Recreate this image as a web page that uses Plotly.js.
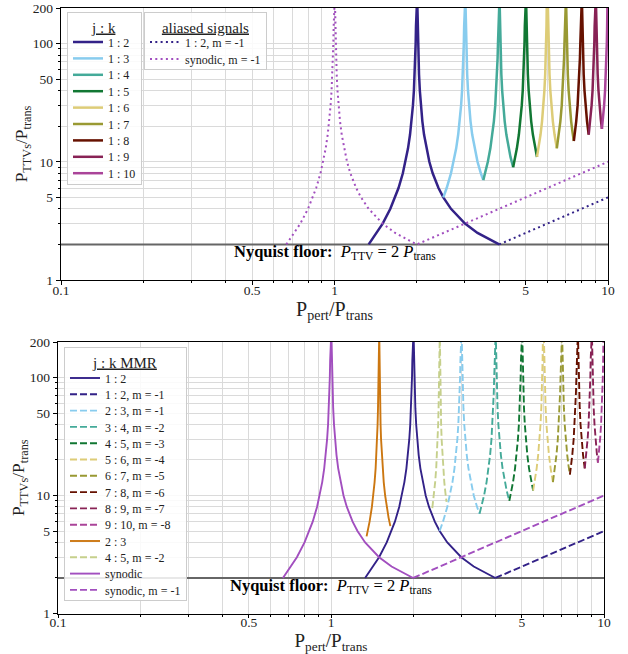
<!DOCTYPE html>
<html>
<head>
<meta charset="utf-8">
<script src="https://cdn.plot.ly/plotly-3.0.1.min.js"></script>
<style>html,body{margin:0;padding:0;background:#fff;}#chart{width:628px;height:654px;}</style>
</head>
<body>
<div id="chart"></div>
<script>
// ---------- data ----------
// Nyquist floor
const nyq_x = [0.1, 10];
const nyq_y = [2, 2];

// synodic (both branches)
const x_syn = [0.6667,0.7143,0.75,0.8,0.8333,0.8571,0.8889,0.9091,0.9286,0.9444,0.9565,0.9677,0.9756,0.9821,0.9868,0.9901,0.9929,0.9950,0.9962,
               1.0039,1.0050,1.0072,1.0101,1.0135,1.0185,1.0256,1.0345,1.0476,1.0625,1.0833,1.1111,1.1429,1.2,1.25,1.3333,1.5,1.6667,2];
const y_syn = [2,2.5,3,4,5,6,8,10,13,17,22,30,40,55,75,100,140,200,260,
               260,200,140,100,75,55,40,30,22,17,13,10,8,6,5,4,3,2.5,2];
// synodic aliased, m = -1
const x_syn_alias = [2, 10];
const y_syn_alias = [2, 10];

// 1 : 2
const x_12 = [1.3333,1.4286,1.5,1.6,1.6667,1.7143,1.7778,1.8182,1.8571,1.8889,1.9130,1.9355,1.9512,1.9643,1.9737,1.9802,1.9858,1.9900,1.9923,
              2.0077,2.0101,2.0144,2.0202,2.0270,2.0370,2.0513,2.0690,2.0952,2.125,2.1667,2.2222,2.2857,2.4,2.5,2.6667,3.0,3.3333,4.0];
const y_12 = [2,2.5,3,4,5,6,8,10,13,17,22,30,40,55,75,100,140,200,260,
              260,200,140,100,75,55,40,30,22,17,13,10,8,6,5,4,3,2.5,2];
// 1 : 2 aliased, m = -1
const x_12_alias = [4, 10];
const y_12_alias = [2, 5];

// 1 : 3  (also 2 : 3, m = -1)
const x_13 = [2.5,2.5714,2.6667,2.7273,2.7857,2.8333,2.8696,2.9032,2.9268,2.9464,2.9605,2.9703,2.9787,2.9851,2.9885,
              3.0116,3.0151,3.0216,3.0303,3.0405,3.0556,3.0769,3.1034,3.1429,3.1875,3.25,3.3333,3.4286,3.5];
const y_13 = [5,6,8,10,13,17,22,30,40,55,75,100,140,200,260,
              260,200,140,100,75,55,40,30,22,17,13,10,8,7];
// 1 : 4  (also 3 : 4, m = -2)
const x_14 = [3.5,3.5556,3.6364,3.7143,3.7778,3.8261,3.8710,3.9024,3.9286,3.9474,3.9604,3.9716,3.9801,3.9847,
              4.0154,4.0201,4.0288,4.0404,4.0541,4.0741,4.1026,4.1379,4.1905,4.25,4.3333,4.4,4.5];
const y_14 = [7,8,10,13,17,22,30,40,55,75,100,140,200,260,
              260,200,140,100,75,55,40,30,22,17,13,11,9];
// 1 : 5  (also 4 : 5, m = -3)
const x_15 = [4.5,4.5833,4.6429,4.7222,4.7826,4.8387,4.8780,4.9107,4.9342,4.9505,4.9645,4.9751,4.9808,
              5.0193,5.0251,5.0360,5.0505,5.0676,5.0926,5.1282,5.1724,5.2381,5.3125,5.4167,5.5];
const y_15 = [9,11,13,17,22,30,40,55,75,100,140,200,260,
              260,200,140,100,75,55,40,30,22,17,13,11];
// 1 : 6  (also 5 : 6, m = -4)
const x_16 = [5.5,5.5714,5.6667,5.7391,5.8065,5.8537,5.8929,5.9211,5.9406,5.9574,5.9701,5.9770,
              6.0232,6.0302,6.0432,6.0606,6.0811,6.1111,6.1538,6.2069,6.2857,6.375,6.5];
const y_16 = [11,13,17,22,30,40,55,75,100,140,200,260,
              260,200,140,100,75,55,40,30,22,17,13];
// 1 : 7  (also 6 : 7, m = -5)
const x_17 = [6.5,6.5625,6.6111,6.6957,6.7742,6.8293,6.875,6.9079,6.9307,6.9504,6.9652,6.9732,
              7.0270,7.0352,7.0504,7.0707,7.0946,7.1296,7.1795,7.2414,7.3333,7.4118,7.5];
const y_17 = [13,15,17,22,30,40,55,75,100,140,200,260,
              260,200,140,100,75,55,40,30,22,18,15];
// 1 : 8  (also 7 : 8, m = -6)
const x_18 = [7.5,7.5556,7.6522,7.7419,7.8049,7.8571,7.8947,7.9208,7.9433,7.9602,7.9693,
              8.0309,8.0402,8.0576,8.0808,8.1081,8.1481,8.2051,8.2759,8.3810,8.5];
const y_18 = [15,17,22,30,40,55,75,100,140,200,260,
              260,200,140,100,75,55,40,30,22,17];
// 1 : 9  (also 8 : 9, m = -7)
const x_19 = [8.5,8.5714,8.6538,8.7097,8.7805,8.8393,8.8816,8.9109,8.9362,8.9552,8.9655,
              9.0347,9.0452,9.0647,9.0909,9.1216,9.1667,9.2308,9.3103,9.4091,9.5];
const y_19 = [17,20,25,30,40,55,75,100,140,200,260,
              260,200,140,100,75,55,40,30,23,19];
// 1 : 10  (also 9 : 10, m = -8)
const x_110 = [9.5,9.5652,9.6296,9.6774,9.7561,9.8214,9.8684,9.9010,9.9291,9.9502,9.9617];
const y_110 = [19,22,26,30,40,55,75,100,140,200,260];

// 2 : 3
const x_23 = [1.35,1.3636,1.3846,1.4118,1.4286,1.4444,1.4571,1.4667,1.4754,1.4815,1.4865,1.4901,1.4925,1.4947,1.4963,1.4971,
              1.5029,1.5038,1.5054,1.5075,1.5101,1.5138,1.5190,1.5254,1.5349,1.5455,1.56,1.5789,1.6,1.625,1.65];
const y_23 = [4.5,5,6,8,10,13,17,22,30,40,55,75,100,140,200,260,
              260,200,140,100,75,55,40,30,22,17,13,10,8,6.5,5.5];
// 4 : 5, m = -2
const x_45 = [2.35,2.381,2.4074,2.4286,2.4444,2.4590,2.4691,2.4775,2.4834,2.4876,2.4911,2.4938,2.4952,
              2.5048,2.5063,2.5090,2.5126,2.5168,2.5229,2.5316,2.5424,2.5581,2.5758,2.6,2.625,2.65];
const y_45 = [7.83,10,13,17,22,30,40,55,75,100,140,200,260,
              260,200,140,100,75,55,40,30,22,17,13,10.5,8.83];

// tick labels
const x_tickvals = [0.1, 0.5, 1, 5, 10];
const x_ticktext = ['0.1', '0.5', '1', '5', '10'];
const x_minor = [0.2,0.3,0.4,0.6,0.7,0.8,0.9,2,3,4,6,7,8,9];
const y_tickvals = [1, 5, 10, 50, 100, 200];
const y_ticktext = ['1', '5', '10', '50', '100', '200'];
const y_minor = [2,3,4,6,7,8,9,20,30,40,60,70,80,90];

// ---------- styling ----------
const SERIF = '"Liberation Serif", "Times New Roman", serif';
const C = {
  c12:'#332288', c13:'#88CCEE', c14:'#44AA99', c15:'#117733', c16:'#DDCC77',
  c17:'#999933', c18:'#661100', c19:'#882255', c110:'#AA4499',
  syn:'#A24FBF', c23:'#CC7711', c45:'#C6D08C', nyq:'#666666'
};
const DOT = '2px,3.3px';
const DASH = '7px,3px';

function tr(x, y, name, color, opts) {
  opts = opts || {};
  return {
    type: 'scatter', mode: 'lines', x: x, y: y, name: name,
    xaxis: opts.xa || 'x', yaxis: opts.ya || 'y',
    line: {color: color, width: opts.w || 2.3, dash: opts.dash || 'solid'},
    showlegend: opts.show !== false, legend: opts.legend || 'legend',
    hoverinfo: 'skip'
  };
}

const T = {w: 2.5};
const B = {xa: 'x2', ya: 'y2', w: 1.9, legend: 'legend3'};
function b(extra) { return Object.assign({}, B, extra); }

const data = [
  // top panel
  tr(nyq_x, nyq_y, 'nyq', C.nyq, {w: 2, show: false}),
  tr(x_12, y_12, '1 : 2', C.c12, T),
  tr(x_13, y_13, '1 : 3', C.c13, T),
  tr(x_14, y_14, '1 : 4', C.c14, T),
  tr(x_15, y_15, '1 : 5', C.c15, T),
  tr(x_16, y_16, '1 : 6', C.c16, T),
  tr(x_17, y_17, '1 : 7', C.c17, T),
  tr(x_18, y_18, '1 : 8', C.c18, T),
  tr(x_19, y_19, '1 : 9', C.c19, T),
  tr(x_110, y_110, '1 : 10', C.c110, T),
  tr(x_12_alias, y_12_alias, '1 : 2, m = -1', C.c12, {w: 2, dash: DOT, legend: 'legend2'}),
  tr(x_syn.concat(x_syn_alias), y_syn.concat(y_syn_alias), 'synodic, m = -1', C.syn, {w: 2, dash: DOT, legend: 'legend2'}),
  // bottom panel
  tr(nyq_x, nyq_y, 'nyq', C.nyq, b({w: 2, show: false})),
  tr(x_12, y_12, '1 : 2', C.c12, b()),
  tr(x_12_alias, y_12_alias, '1 : 2, m = -1', C.c12, b({dash: DASH})),
  tr(x_13, y_13, '2 : 3, m = -1', C.c13, b({dash: DASH})),
  tr(x_14, y_14, '3 : 4, m = -2', C.c14, b({dash: DASH})),
  tr(x_15, y_15, '4 : 5, m = -3', C.c15, b({dash: DASH})),
  tr(x_16, y_16, '5 : 6, m = -4', C.c16, b({dash: DASH})),
  tr(x_17, y_17, '6 : 7, m = -5', C.c17, b({dash: DASH})),
  tr(x_18, y_18, '7 : 8, m = -6', C.c18, b({dash: DASH})),
  tr(x_19, y_19, '8 : 9, m = -7', C.c19, b({dash: DASH})),
  tr(x_110, y_110, '9 : 10, m = -8', C.c110, b({dash: DASH})),
  tr(x_23, y_23, '2 : 3', C.c23, b()),
  tr(x_45, y_45, '4 : 5, m = -2', C.c45, b({dash: DASH})),
  tr(x_syn, y_syn, 'synodic', C.syn, b()),
  tr(x_syn_alias, y_syn_alias, 'synodic, m = -1', C.syn, b({dash: DASH}))
];

const W = 628, H = 654;
const GRID = '#dadada';
function xax(domain, anchor, titleStandoff, labelStandoff, titleSize) {
  return {
    type: 'log', range: [-1, 1], domain: domain, anchor: anchor,
    tickmode: 'array', tickvals: x_tickvals, ticktext: x_ticktext,
    ticks: 'outside', ticklen: 3.5, tickwidth: 1, tickcolor: '#000',
    ticklabelstandoff: labelStandoff,
    showline: true, linecolor: '#000', linewidth: 1.3, mirror: true,
    showgrid: true, gridcolor: GRID, gridwidth: 1, zeroline: false,
    minor: {tickmode: 'array', tickvals: x_minor, ticks: 'outside', ticklen: 2, tickcolor: '#000',
            showgrid: true, gridcolor: GRID, gridwidth: 1},
    tickfont: {family: SERIF, size: 13.5, color: '#222'},
    title: {text: 'P<sub>pert</sub>/P<sub>trans</sub>', font: {family: SERIF, size: titleSize, color: '#222'}, standoff: titleStandoff}
  };
}
function yax(domain, anchor) {
  return {
    type: 'log', range: [0, Math.log10(200)], domain: domain, anchor: anchor,
    tickmode: 'array', tickvals: y_tickvals, ticktext: y_ticktext,
    ticks: 'outside', ticklen: 4, tickwidth: 1, tickcolor: '#000',
    showline: true, linecolor: '#000', linewidth: 1.3, mirror: true,
    showgrid: true, gridcolor: GRID, gridwidth: 1, zeroline: false,
    minor: {tickmode: 'array', tickvals: y_minor, ticks: 'outside', ticklen: 2, tickcolor: '#000',
            showgrid: true, gridcolor: GRID, gridwidth: 1},
    tickfont: {family: SERIF, size: 13.5, color: '#222'},
    title: {text: 'P<sub>TTVs</sub>/P<sub>trans</sub>', font: {family: SERIF, size: 17.5, color: '#222'}, standoff: 0}
  };
}
function leg(xpx, ypx, title) {
  return {
    x: xpx / W, y: 1 - ypx / H, xanchor: 'left', yanchor: 'top',
    bgcolor: 'rgba(255,255,255,0.85)', bordercolor: '#cccccc', borderwidth: 1,
    font: {family: SERIF, size: 12, color: '#222'},
    title: {text: title, side: 'top center', font: {family: SERIF, size: 15, color: '#222'}},
    itemwidth: 30, tracegroupgap: 0
  };
}
const nyqText = '<b>Nyquist floor:</b>  <i>P</i><sub>TTV</sub> = 2 <i>P</i><sub>trans</sub>';
function nyqAnn(xref, yref) {
  return {xref: xref, yref: yref, x: 0, y: Math.log10(2), xanchor: 'center', yanchor: 'top',
          showarrow: false, text: nyqText, yshift: 4,
          font: {family: SERIF, size: 16.5, color: '#000'}};
}

const layout = {
  width: W, height: H,
  margin: {l: 0, r: 0, t: 0, b: 0},
  font: {family: SERIF, color: '#222'},
  paper_bgcolor: '#fff', plot_bgcolor: '#fff',
  xaxis: xax([61 / W, 608 / W], 'y', 1, -6, 20),
  yaxis: yax([1 - 280 / H, 1 - 8 / H], 'x'),
  xaxis2: xax([58 / W, 604 / W], 'y2', 6, -8, 19),
  yaxis2: yax([1 - 613.5 / H, 1 - 342 / H], 'x2'),
  legend: leg(67, 12, '<u>j : k</u>'),
  legend2: leg(144, 12, '<u>aliased signals</u>'),
  legend3: leg(64, 347, '<u>j : k MMR</u>'),
  annotations: [nyqAnn('x', 'y'), nyqAnn('x2', 'y2')],
  showlegend: true
};

// tighter legend row spacing (layout only)
const LEG_SPACING = {
  legend:  {shift: -5, step: 16.4, pad: 11},
  legend2: {shift: -5, step: 17,   pad: 10},
  legend3: {shift: -4, step: 16.3, pad: 10}
};

Plotly.newPlot('chart', data, layout, {displayModeBar: false, staticPlot: true}).then(function (gd) {
  Object.keys(LEG_SPACING).forEach(function (id) {
    const s = LEG_SPACING[id];
    const g = gd.querySelector('g.' + id);
    if (!g) return;
    const items = g.querySelectorAll('g.traces');
    let y0 = null, last = 0;
    items.forEach(function (it, i) {
      const m = /translate\(\s*([-\d.e]+)[\s,]+([-\d.e]+)\s*\)/.exec(it.getAttribute('transform') || '');
      if (!m) return;
      const x = parseFloat(m[1]), y = parseFloat(m[2]);
      if (y0 === null) y0 = y + s.shift;
      last = y0 + i * s.step;
      it.setAttribute('transform', 'translate(' + x + ',' + last + ')');
    });
    const bg = g.querySelector('rect.bg');
    if (bg && last) bg.setAttribute('height', last + s.pad);
  });
});
</script>
</body>
</html>
